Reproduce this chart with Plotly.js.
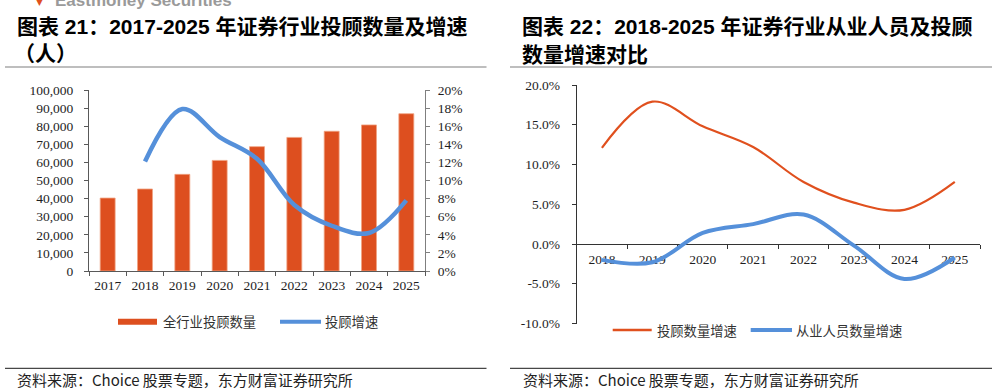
<!DOCTYPE html>
<html>
<head>
<meta charset="utf-8">
<script src="https://cdn.plot.ly/plotly-3.0.1.min.js"></script>
<style>
  html, body { margin: 0; padding: 0; background: #fff; }
  #chart { width: 997px; height: 392px; }
</style>
</head>
<body>
<div id="chart"></div>
<script>
// 图表21：全行业投顾数量（人）及增速
const years = ['2017', '2018', '2019', '2020', '2021', '2022', '2023', '2024', '2025'];
const advisorCount = [40300, 45300, 53400, 61100, 68700, 73800, 77200, 80700, 86900];
const advisorGrowth = [null, 12.1, 17.9, 14.8, 12.4, 7.3, 5.0, 4.2, 7.8];

// 图表22：从业人员及投顾数量增速对比（%）
const compareYears = ['2018', '2019', '2020', '2021', '2022', '2023', '2024', '2025'];
const advisorGrowthCompare = [12.1, 17.9, 14.8, 12.2, 7.8, 5.2, 4.3, 7.8];
const staffGrowth = [-2.0, -2.3, 1.4, 2.5, 3.7, -0.2, -4.4, -1.7];

// axis tick labels
const countTicks = [0, 10000, 20000, 30000, 40000, 50000, 60000, 70000, 80000, 90000, 100000];
const countTickText = ['0', '10,000', '20,000', '30,000', '40,000', '50,000', '60,000', '70,000', '80,000', '90,000', '100,000'];
const growthTicks = [0, 2, 4, 6, 8, 10, 12, 14, 16, 18, 20];
const growthTickText = ['0%', '2%', '4%', '6%', '8%', '10%', '12%', '14%', '16%', '18%', '20%'];
const compareTicks = [-10, -5, 0, 5, 10, 15, 20];
const compareTickText = ['-10.0%', '-5.0%', '0.0%', '5.0%', '10.0%', '15.0%', '20.0%'];

// legend / text labels
const barName = '全行业投顾数量';
const lineName = '投顾增速';
const advisorName = '投顾数量增速';
const staffName = '从业人员数量增速';
const title21 = ['图表 21：2017-2025 年证券行业投顾数量及增速', '（人）'];
const title22 = ['图表 22：2018-2025 年证券行业从业人员及投顾', '数量增速对比'];
const sourceText = '资料来源：Choice 股票专题，东方财富证券研究所';
const brandText = 'Eastmoney Securities';

const W = 997, H = 392;
const fx = v => v / W;
const fy = v => 1 - v / H;

const ORANGE = '#DD4F1F';
const BLUE = '#5590DA';
const serif = '"Liberation Serif", "Times New Roman", serif';
const cjk = '"Noto Sans CJK SC", sans-serif';
const titleFont = '"Liberation Sans", Arial, "Noto Sans CJK SC", sans-serif';

const tickFont = { family: serif, size: 13.5, color: '#1e1e1e' };

const traces = [
  {
    type: 'bar', x: years, y: advisorCount, name: barName,
    xaxis: 'x', yaxis: 'y',
    marker: { color: ORANGE, line: { color: '#F0A282', width: 0.8 } },
    hoverinfo: 'x+y'
  },
  {
    type: 'scatter', mode: 'lines', x: years, y: advisorGrowth, name: lineName,
    xaxis: 'x', yaxis: 'y2', connectgaps: false,
    line: { color: BLUE, width: 4.5, shape: 'spline', smoothing: 1 }
  },
  {
    type: 'scatter', mode: 'lines', x: compareYears, y: advisorGrowthCompare, name: advisorName,
    xaxis: 'x2', yaxis: 'y3',
    line: { color: '#E0501E', width: 2.2, shape: 'spline', smoothing: 1 }
  },
  {
    type: 'scatter', mode: 'lines', x: compareYears, y: staffGrowth, name: staffName,
    xaxis: 'x2', yaxis: 'y3',
    line: { color: BLUE, width: 4, shape: 'spline', smoothing: 1 }
  }
];

// right chart: y domain, with the category axis sitting on the 0% line
const y3Domain = [fy(323.5), fy(85)];
const y3Range = [-10, 20];
const zeroPos = y3Domain[0] + (y3Domain[1] - y3Domain[0]) * (0 - y3Range[0]) / (y3Range[1] - y3Range[0]);

const annotations = [];
function addText(text, x, y, font, opts) {
  annotations.push(Object.assign({
    xref: 'paper', yref: 'paper', x: fx(x), y: fy(y),
    xanchor: 'left', yanchor: 'middle', showarrow: false,
    text: text, font: font
  }, opts || {}));
}

const tFont = { family: titleFont, size: 21, color: '#000', weight: 'bold' };
addText(title21[0], 15, 26.5, tFont);
addText(title21[1], 12, 54, tFont);
addText(title22[0], 520, 26.5, tFont);
addText(title22[1], 520, 55, tFont);

const legFont = { family: cjk, size: 13.3, color: '#333' };
addText(barName, 161, 321.7, legFont);
addText(lineName, 323, 321.7, legFont);
addText(advisorName, 655, 330, legFont);
addText(staffName, 794, 330, legFont);

const srcFont = { family: cjk, size: 15, color: '#222' };
addText(sourceText, 15, 379.5, srcFont);
addText(sourceText, 521, 379.5, srcFont);

addText(brandText, 53, 1, { family: '"Liberation Sans", Arial, sans-serif', size: 17, color: '#9a9a9a', weight: 'bold' });
addText('▼', 34, 2, { family: '"DejaVu Sans", sans-serif', size: 9, color: '#E0501E' });

const shapes = [
  // title rules
  { type: 'line', xref: 'paper', yref: 'paper', x0: fx(5), x1: fx(486.5), y0: fy(67), y1: fy(67), line: { color: '#A8A8A8', width: 1.6 } },
  { type: 'line', xref: 'paper', yref: 'paper', x0: fx(510), x1: fx(992), y0: fy(67), y1: fy(67), line: { color: '#A8A8A8', width: 1.6 } },
  // footer rules
  { type: 'line', xref: 'paper', yref: 'paper', x0: fx(5), x1: fx(486.5), y0: fy(368.3), y1: fy(368.3), line: { color: '#1a1a1a', width: 1 } },
  { type: 'line', xref: 'paper', yref: 'paper', x0: fx(510), x1: fx(992), y0: fy(368.3), y1: fy(368.3), line: { color: '#1a1a1a', width: 1 } },
  // legend swatches
  { type: 'rect', xref: 'paper', yref: 'paper', x0: fx(118), x1: fx(157), y0: fy(318.7), y1: fy(324.7), line: { width: 0 }, fillcolor: ORANGE },
  { type: 'line', xref: 'paper', yref: 'paper', x0: fx(280), x1: fx(321), y0: fy(321.7), y1: fy(321.7), line: { color: BLUE, width: 4 } },
  { type: 'line', xref: 'paper', yref: 'paper', x0: fx(612.7), x1: fx(651.7), y0: fy(330), y1: fy(330), line: { color: '#E0501E', width: 2.5 } },
  { type: 'line', xref: 'paper', yref: 'paper', x0: fx(750.7), x1: fx(792), y0: fy(330), y1: fy(330), line: { color: BLUE, width: 4 } }
];

const layout = {
  width: W, height: H,
  margin: { l: 0, r: 0, t: 0, b: 0, pad: 0 },
  paper_bgcolor: '#fff', plot_bgcolor: 'rgba(0,0,0,0)',
  showlegend: false,
  bargap: 0.6,
  xaxis: {
    domain: [fx(89), fx(425)], anchor: 'y', type: 'category',
    range: [-0.5, 8.5], showgrid: false, zeroline: false,
    showline: true, linecolor: '#595959', linewidth: 1,
    ticks: 'outside', tickson: 'boundaries', ticklen: 4, tickcolor: '#595959',
    tickfont: tickFont, ticklabelstandoff: 2, fixedrange: true
  },
  yaxis: {
    domain: [fy(271), fy(90)], anchor: 'x',
    range: [0, 100000], tickmode: 'array', tickvals: countTicks, ticktext: countTickText,
    showgrid: false, zeroline: false,
    showline: true, linecolor: '#595959', linewidth: 1,
    ticks: 'outside', ticklen: 4, tickcolor: '#595959',
    tickfont: tickFont, ticklabelstandoff: 8, fixedrange: true
  },
  yaxis2: {
    overlaying: 'y', side: 'right', anchor: 'x',
    range: [0, 20], tickmode: 'array', tickvals: growthTicks, ticktext: growthTickText,
    showgrid: false, zeroline: false,
    showline: true, linecolor: '#7f7f7f', linewidth: 1,
    ticks: 'outside', ticklen: 4, tickcolor: '#7f7f7f',
    tickfont: tickFont, ticklabelstandoff: 5, fixedrange: true
  },
  xaxis2: {
    domain: [fx(576.7), fx(980)], anchor: 'free', position: zeroPos,
    type: 'category', range: [-0.5, 7.5], layer: 'below traces',
    showgrid: false, zeroline: false,
    showline: true, linecolor: '#333', linewidth: 1,
    ticks: 'outside', tickson: 'boundaries', ticklen: 4, tickcolor: '#333',
    tickfont: tickFont, ticklabelstandoff: 3, fixedrange: true
  },
  yaxis3: {
    domain: y3Domain, anchor: 'x2', range: y3Range,
    tickmode: 'array', tickvals: compareTicks, ticktext: compareTickText,
    showgrid: false, zeroline: false,
    showline: true, linecolor: '#333', linewidth: 1,
    ticks: 'outside', ticklen: 4, tickcolor: '#333',
    tickfont: tickFont, ticklabelstandoff: 9, fixedrange: true
  },
  annotations: annotations,
  shapes: shapes
};

Plotly.newPlot('chart', traces, layout, { displayModeBar: false, staticPlot: true });
</script>
</body>
</html>
